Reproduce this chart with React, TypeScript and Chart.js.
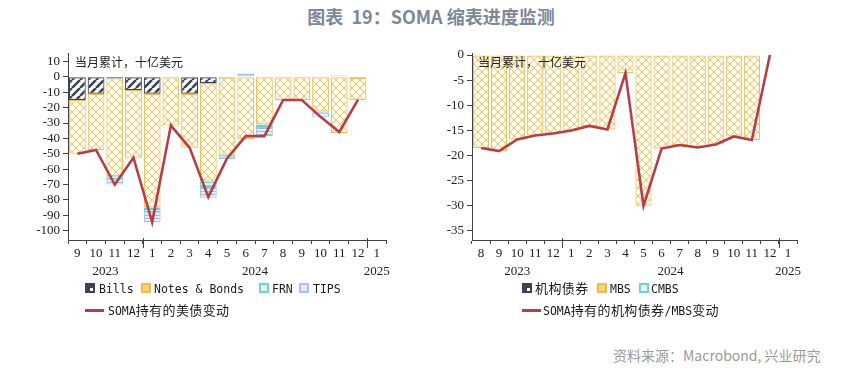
import React, { useEffect, useRef } from 'react';
import { Chart, registerables } from 'chart.js';

Chart.register(...registerables);

// ---------- Left chart data (2023-09 .. 2025-01) ----------
const leftMonths = ['9', '10', '11', '12', '1', '2', '3', '4', '5', '6', '7', '8', '9', '10', '11', '12', '1'];
const leftYearLabels = ['2023', '2024', '2025'];
const leftYearStarts = [0, 4, 16];
const leftYTicks = [10, 0, -10, -20, -30, -40, -50, -60, -70, -80, -90, -100];
const bills = [-15, -11, -1, -8.5, -11, null, -11, -4, -0.5, null, null, null, null, null, null, -0.6, null];
const notesBonds = [-35, -36.5, -63.5, -44, -74, -31.5, -35, -64, -50, -40.5, -31, -15, -15, -22.5, -36.5, -14.5, null];
const frn = [null, null, -2, null, -3, null, null, -3.5, -2, 1, -1.5, null, null, -0.5, 0.8, null, null];
const tips = [null, null, -3.5, null, -6.5, null, null, -7, -1, 1.2, -6, null, null, -3, null, null, null];
const somaTreasury = [-50, -47.5, -70, -52.5, -94.5, -31.5, -46, -78, -53, -38.5, -38.5, -15, -15, -26, -35.8, -15, null];

// ---------- Right chart data (2023-08 .. 2025-01) ----------
const rightMonths = ['8', '9', '10', '11', '12', '1', '2', '3', '4', '5', '6', '7', '8', '9', '10', '11', '12', '1'];
const rightYearLabels = ['2023', '2024', '2025'];
const rightYearStarts = [0, 5, 17];
const rightYTicks = [0, -5, -10, -15, -20, -25, -30, -35];
const agency = [null, null, null, null, null, null, null, null, null, null, null, null, null, null, null, null, null, null];
const mbs = [-18.5, -19.1, -16.8, -16.0, -15.6, -15.0, -14.1, -14.8, -3.6, -30, -18.6, -17.9, -18.4, -17.8, -16.2, -16.9, -0.1, null];
const cmbs = [null, null, null, null, null, null, null, null, null, null, null, null, null, null, null, null, null, null];
const somaAgency = [-18.5, -19.1, -16.8, -16.0, -15.6, -15.0, -14.1, -14.8, -3.6, -30, -18.6, -17.9, -18.4, -17.8, -16.2, -16.9, 0, null];

const unitText = '当月累计，十亿美元';

const LINE_COLOR = '#b43f49';
const AXIS_COLOR = '#444';
const TICK_FONT = '"Liberation Serif", "Times New Roman", serif';
const TICK_SIZE = 13;

function makePattern(kind: string): CanvasPattern | string {
  const c = document.createElement('canvas');
  const ctx = c.getContext('2d');
  if (!ctx) return '#ccc';
  if (kind === 'notes') {
    c.width = 8; c.height = 8;
    ctx.fillStyle = '#fffaf0'; ctx.fillRect(0, 0, 8, 8);
    ctx.strokeStyle = '#f1c566'; ctx.lineWidth = 1;
    ctx.beginPath();
    ctx.moveTo(0, 0); ctx.lineTo(8, 8);
    ctx.moveTo(8, 0); ctx.lineTo(0, 8);
    ctx.stroke();
  } else if (kind === 'bills') {
    c.width = 8; c.height = 8;
    ctx.fillStyle = '#ffffff'; ctx.fillRect(0, 0, 8, 8);
    ctx.strokeStyle = '#394354'; ctx.lineWidth = 2.6;
    ctx.beginPath();
    for (const o of [-8, 0, 8]) { ctx.moveTo(o, 8); ctx.lineTo(o + 8, 0); }
    ctx.stroke();
  } else if (kind === 'frn') {
    c.width = 4; c.height = 3;
    ctx.fillStyle = '#e6f7f7'; ctx.fillRect(0, 0, 4, 3);
    ctx.fillStyle = '#5ecbcc'; ctx.fillRect(0, 1, 4, 1);
  } else if (kind === 'tips') {
    c.width = 4; c.height = 3;
    ctx.fillStyle = '#e9f0fa'; ctx.fillRect(0, 0, 4, 3);
    ctx.fillStyle = '#9dbbe3'; ctx.fillRect(0, 1, 4, 1);
  }
  return ctx.createPattern(c, 'repeat') || '#ccc';
}

function decorPlugin(years: string[], starts: number[], note: string, noteDx: number) {
  return {
    id: 'decor',
    afterDatasetsDraw(chart: any) {
      const ctx = chart.ctx;
      const area = chart.chartArea;
      ctx.save();
      ctx.font = '12px "Noto Sans CJK SC", sans-serif';
      ctx.fillStyle = '#222';
      ctx.textAlign = 'left';
      ctx.textBaseline = 'middle';
      ctx.fillText(note, area.left + noteDx, area.top + 9);
      ctx.restore();
    },
    afterDraw(chart: any) {
      const x = chart.scales.x;
      const ctx = chart.ctx;
      const bottom = chart.chartArea.bottom;
      const n = chart.data.labels.length;
      const half = (x.getPixelForValue(1) - x.getPixelForValue(0)) / 2;
      ctx.save();
      ctx.font = TICK_SIZE + 'px ' + TICK_FONT;
      ctx.fillStyle = '#222';
      ctx.textAlign = 'center';
      ctx.textBaseline = 'middle';
      starts.forEach((s, i) => {
        const e = i + 1 < starts.length ? starts[i + 1] - 1 : n - 1;
        const l = x.getPixelForValue(s) - half;
        const r = x.getPixelForValue(e) + half;
        ctx.fillText(years[i], (l + r) / 2, bottom + 32);
        if (i > 0) {
          ctx.strokeStyle = AXIS_COLOR;
          ctx.lineWidth = 1;
          ctx.beginPath();
          ctx.moveTo(Math.round(l) + 0.5, bottom - 2);
          ctx.lineTo(Math.round(l) + 0.5, bottom + 8);
          ctx.stroke();
        }
      });
      ctx.restore();
    },
  };
}

function barDs(label: string, data: any[], kind: string, border: string) {
  return {
    type: 'bar' as const,
    label,
    data,
    backgroundColor: makePattern(kind),
    borderColor: border,
    borderWidth: 1.2,
    borderSkipped: false,
    stack: 'bars',
    order: 1,
    barPercentage: 1,
    categoryPercentage: 0.9,
  };
}

function lineDs(label: string, data: any[]) {
  return {
    type: 'line' as const,
    label,
    data,
    borderColor: LINE_COLOR,
    backgroundColor: LINE_COLOR,
    borderWidth: 2.6,
    pointRadius: 0,
    tension: 0,
    fill: false,
    stack: 'line',
    order: 0,
  };
}

function buildConfig(opts: {
  labels: string[]; datasets: any[]; min: number; max: number; ticks: number[];
  yWidth: number; padRight: number; years: string[]; starts: number[]; noteDx: number;
}): any {
  return {
    type: 'bar',
    data: { labels: opts.labels, datasets: opts.datasets },
    plugins: [decorPlugin(opts.years, opts.starts, unitText, opts.noteDx)],
    options: {
      animation: false,
      responsive: false,
      maintainAspectRatio: false,
      devicePixelRatio: 1,
      layout: { padding: { top: 13, right: opts.padRight, left: 0, bottom: 0 } },
      plugins: { legend: { display: false }, tooltip: { enabled: false } },
      scales: {
        x: {
          stacked: true,
          offset: true,
          afterFit: (s: any) => { s.height = 40; },
          grid: { display: true, drawOnChartArea: false, drawTicks: true, tickLength: 4, offset: true, color: AXIS_COLOR },
          border: { display: true, color: AXIS_COLOR, width: 1 },
          ticks: { color: '#222', font: { family: TICK_FONT, size: TICK_SIZE }, padding: 2, maxRotation: 0, autoSkip: false },
        },
        y: {
          stacked: true,
          min: opts.min,
          max: opts.max,
          afterFit: (s: any) => { s.width = opts.yWidth; },
          afterBuildTicks: (s: any) => { s.ticks = opts.ticks.map((v) => ({ value: v })); },
          grid: { display: true, drawOnChartArea: false, drawTicks: true, tickLength: 5, color: AXIS_COLOR },
          border: { display: true, color: AXIS_COLOR, width: 1 },
          ticks: { color: '#222', font: { family: TICK_FONT, size: TICK_SIZE }, padding: 3, autoSkip: false },
        },
      },
    },
  };
}

function ChartCanvas(props: { left: number; top: number; width: number; height: number; make: () => any }) {
  const ref = useRef<HTMLCanvasElement | null>(null);
  useEffect(() => {
    if (!ref.current) return;
    const chart = new Chart(ref.current, props.make());
    return () => chart.destroy();
  }, []);
  return (
    <canvas
      ref={ref}
      width={props.width}
      height={props.height}
      style={{ position: 'absolute', left: props.left, top: props.top, width: props.width, height: props.height }}
    />
  );
}

function MixedText(props: { text: string }) {
  const parts = props.text.split(/([\u3000-\u9fff\uff00-\uffef]+)/).filter((p) => p.length > 0);
  return (
    <>
      {parts.map((p, i) =>
        /[\u3000-\u9fff\uff00-\uffef]/.test(p) ? (
          <span key={i} style={{ fontFamily: '"Noto Sans CJK SC", sans-serif', fontSize: 13, letterSpacing: 0.4 }}>{p}</span>
        ) : (
          <span key={i} style={{ fontFamily: '"DejaVu Sans Mono", "Liberation Mono", monospace', fontSize: 11.5 }}>{p}</span>
        )
      )}
    </>
  );
}

function BoxIcon(props: { x: number; y: number; fill: string; border: string; inner?: string }) {
  return (
    <div style={{ position: 'absolute', left: props.x, top: props.y - 5, width: 10, height: 10, boxSizing: 'border-box', background: props.fill, border: '2px solid ' + props.border }}>
      {props.inner ? <div style={{ position: 'absolute', right: 0, bottom: 0, width: 3, height: 3, background: props.inner }} /> : null}
    </div>
  );
}

function LegendText(props: { x: number; y: number; text: string }) {
  return (
    <div style={{ position: 'absolute', left: props.x, top: props.y - 10, height: 20, lineHeight: '20px', whiteSpace: 'nowrap', color: '#1a1a1a' }}>
      <MixedText text={props.text} />
    </div>
  );
}

function LineIcon(props: { x: number; y: number }) {
  return <div style={{ position: 'absolute', left: props.x, top: props.y - 1, width: 19, height: 2.5, background: LINE_COLOR }} />;
}

export default function App() {
  const makeLeft = () =>
    buildConfig({
      labels: leftMonths,
      datasets: [
        lineDs('SOMA持有的美债变动', somaTreasury),
        barDs('Bills', bills, 'bills', '#394354'),
        barDs('Notes & Bonds', notesBonds, 'notes', '#eec05c'),
        barDs('FRN', frn, 'frn', '#6ccfd0'),
        barDs('TIPS', tips, 'tips', '#a4c0e6'),
      ],
      min: -106,
      max: 15.5,
      ticks: leftYTicks,
      yWidth: 68,
      padRight: 14,
      years: leftYearLabels,
      starts: leftYearStarts,
      noteDx: 7,
    });
  const makeRight = () =>
    buildConfig({
      labels: rightMonths,
      datasets: [
        lineDs('SOMA持有的机构债券/MBS变动', somaAgency),
        barDs('机构债券', agency, 'bills', '#394354'),
        barDs('MBS', mbs, 'notes', '#eec05c'),
        barDs('CMBS', cmbs, 'frn', '#6ccfd0'),
      ],
      min: -36.8,
      max: 0.4,
      ticks: rightYTicks,
      yWidth: 62,
      padRight: 13,
      years: rightYearLabels,
      starts: rightYearStarts,
      noteDx: 6,
    });

  return (
    <div style={{ position: 'fixed', left: 0, top: 0, width: 862, height: 369, background: '#fff', overflow: 'hidden' }}>
      <div style={{ position: 'absolute', left: 0, width: 862, top: 3, textAlign: 'center', fontFamily: '"Noto Sans CJK SC", sans-serif', fontSize: 18, fontWeight: 700, color: '#7c8797', whiteSpace: 'pre' }}>
        {'图表  19：SOMA 缩表进度监测'}
      </div>

      <ChartCanvas left={0} top={40} width={400} height={240} make={makeLeft} />
      <ChartCanvas left={410} top={40} width={400} height={240} make={makeRight} />

      {/* left legend */}
      <BoxIcon x={85} y={288} fill="#394354" border="#394354" inner="#ffffff" />
      <LegendText x={99} y={288} text="Bills" />
      <BoxIcon x={141} y={288} fill="#f7d27a" border="#f0b94a" />
      <LegendText x={154} y={288} text="Notes & Bonds" />
      <BoxIcon x={259} y={288} fill="#e3f6f6" border="#73d2d3" />
      <LegendText x={272} y={288} text="FRN" />
      <BoxIcon x={299} y={288} fill="#e2ebf7" border="#a9c3e6" />
      <LegendText x={313} y={288} text="TIPS" />
      <LineIcon x={85} y={310} />
      <LegendText x={108} y={310} text="SOMA持有的美债变动" />

      {/* right legend */}
      <BoxIcon x={522} y={288} fill="#394354" border="#394354" inner="#ffffff" />
      <LegendText x={535} y={288} text="机构债券" />
      <BoxIcon x={597} y={288} fill="#f7d27a" border="#f0b94a" />
      <LegendText x={610} y={288} text="MBS" />
      <BoxIcon x={639} y={288} fill="#e3f6f6" border="#73d2d3" />
      <LegendText x={651} y={288} text="CMBS" />
      <LineIcon x={522} y={310} />
      <LegendText x={543} y={310} text="SOMA持有的机构债券/MBS变动" />

      <div style={{ position: 'absolute', left: 613, top: 345, fontFamily: '"Noto Sans CJK SC", sans-serif', fontSize: 14, color: '#9a9a9a', whiteSpace: 'nowrap' }}>
        资料来源：Macrobond, 兴业研究
      </div>
    </div>
  );
}
